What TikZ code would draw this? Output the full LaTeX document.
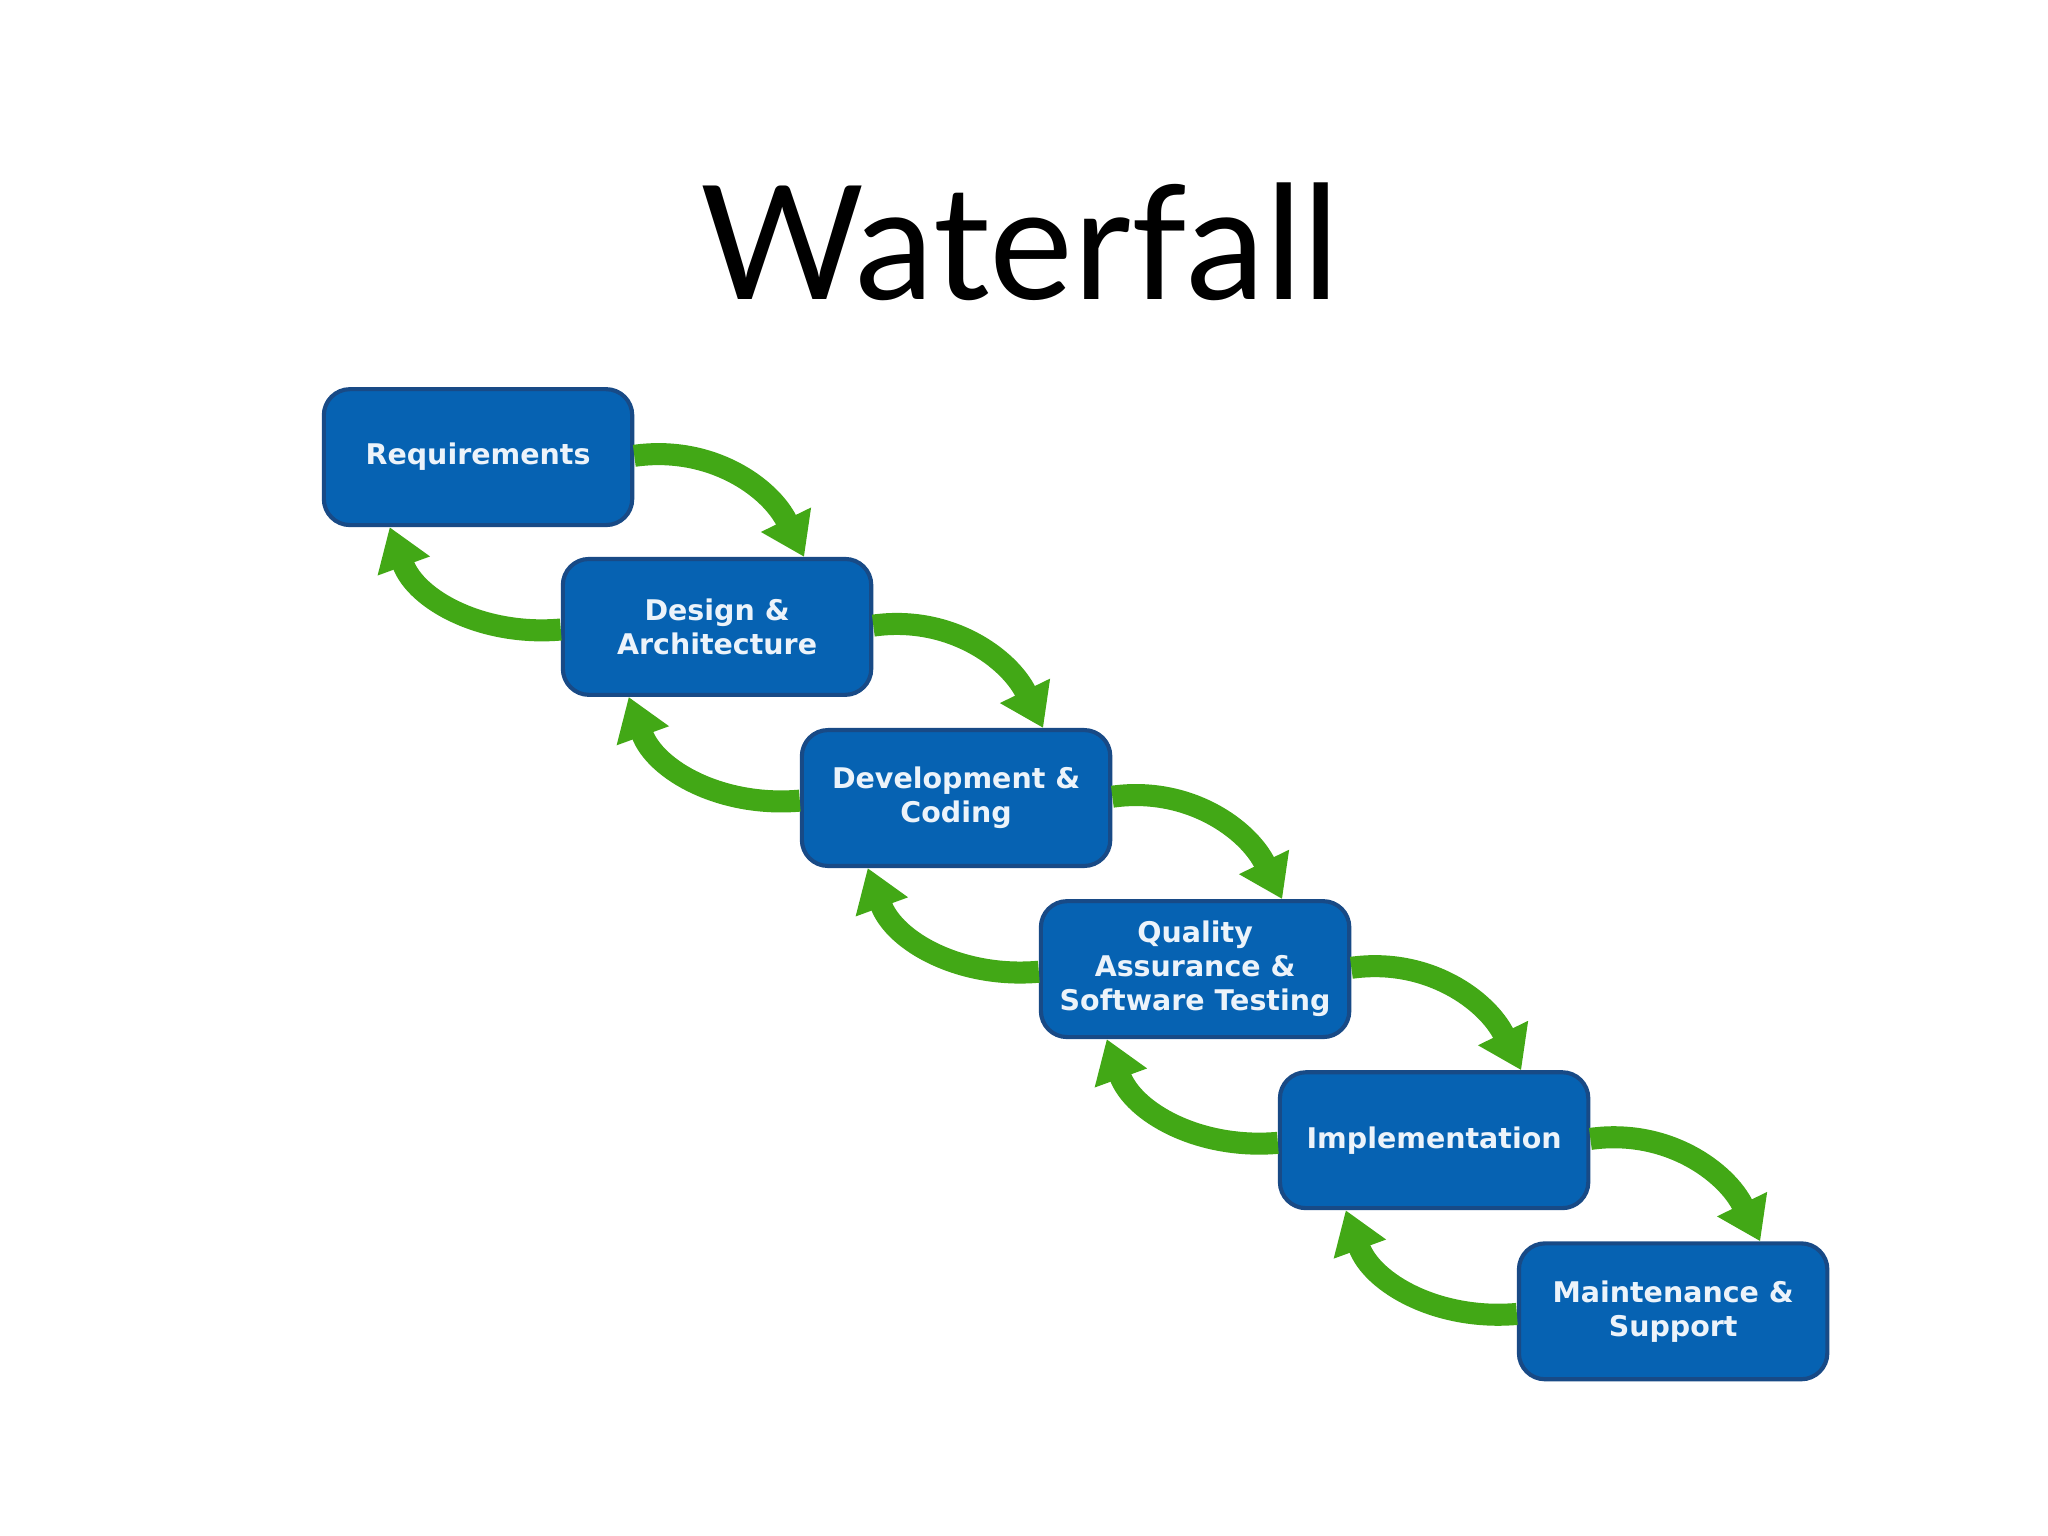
\documentclass[tikz,border=0pt]{standalone}
\usepackage{fontspec}
\setmainfont{Lato}
\newfontfamily\boxfont{DejaVu Sans}
\usetikzlibrary{arrows.meta,calc}

\definecolor{phaseblue}{RGB}{6,98,178}
\definecolor{phaseedge}{RGB}{24,74,134}
\definecolor{loopgreen}{RGB}{66,168,22}
\definecolor{phasetext}{RGB}{236,243,250}

\tikzset{
  phase/.style={draw=phaseedge, line width=0.9pt, fill=phaseblue,
    rounded corners=0.2cm, minimum width=2.36cm, minimum height=1.04cm,
    inner sep=0pt, align=center, text=phasetext,
    font=\boxfont\bfseries\fontsize{6.2}{7.4}\selectfont},
  flow/.style={loopgreen, line width=4.8pt,
    -{Triangle[length=9pt,width=11.5pt]}},
}

\begin{document}
\begin{tikzpicture}[x=0.01cm,y=0.01cm]

\useasboundingbox (0,0) rectangle (1568,1176);

% -----------------------
% Titre
% -----------------------
\node[anchor=base, font=\fontsize{34.5}{40}\selectfont] (title) at (781,947) {Waterfall};

% -----------------------
% Phases
% -----------------------
\node[phase] (req) at (366,826) {Requirements};
\node[phase] (des) at (549,696) {Design \&\\Architecture};
\node[phase] (dev) at (732,565) {Development \&\\Coding};
\node[phase] (qa)  at (915,434) {Quality\\Assurance \&\\Software Testing};
\node[phase] (imp) at (1098,303) {Implementation};
\node[phase] (mnt) at (1281,172) {Maintenance \&\\Support};

% -----------------------
% Fleches vers le bas
% -----------------------
\draw[flow] ($(req.east)+(0,1)$) to[out=8,in=116] ($(des.north east)+(-53,0)$);
\draw[flow] ($(des.east)+(0,1)$) to[out=8,in=116] ($(dev.north east)+(-53,0)$);
\draw[flow] ($(dev.east)+(0,1)$) to[out=8,in=116] ($(qa.north east)+(-53,0)$);
\draw[flow] ($(qa.east)+(0,1)$)  to[out=8,in=116] ($(imp.north east)+(-53,0)$);
\draw[flow] ($(imp.east)+(0,1)$) to[out=8,in=116] ($(mnt.north east)+(-53,0)$);

% -----------------------
% Fleches de retour
% -----------------------
\draw[flow] ($(des.west)+(0,-2)$) to[out=185,in=-70] ($(req.south west)+(52,0)$);
\draw[flow] ($(dev.west)+(0,-2)$) to[out=185,in=-70] ($(des.south west)+(52,0)$);
\draw[flow] ($(qa.west)+(0,-2)$)  to[out=185,in=-70] ($(dev.south west)+(52,0)$);
\draw[flow] ($(imp.west)+(0,-2)$) to[out=185,in=-70] ($(qa.south west)+(52,0)$);
\draw[flow] ($(mnt.west)+(0,-2)$) to[out=185,in=-70] ($(imp.south west)+(52,0)$);

\end{tikzpicture}
\end{document}
